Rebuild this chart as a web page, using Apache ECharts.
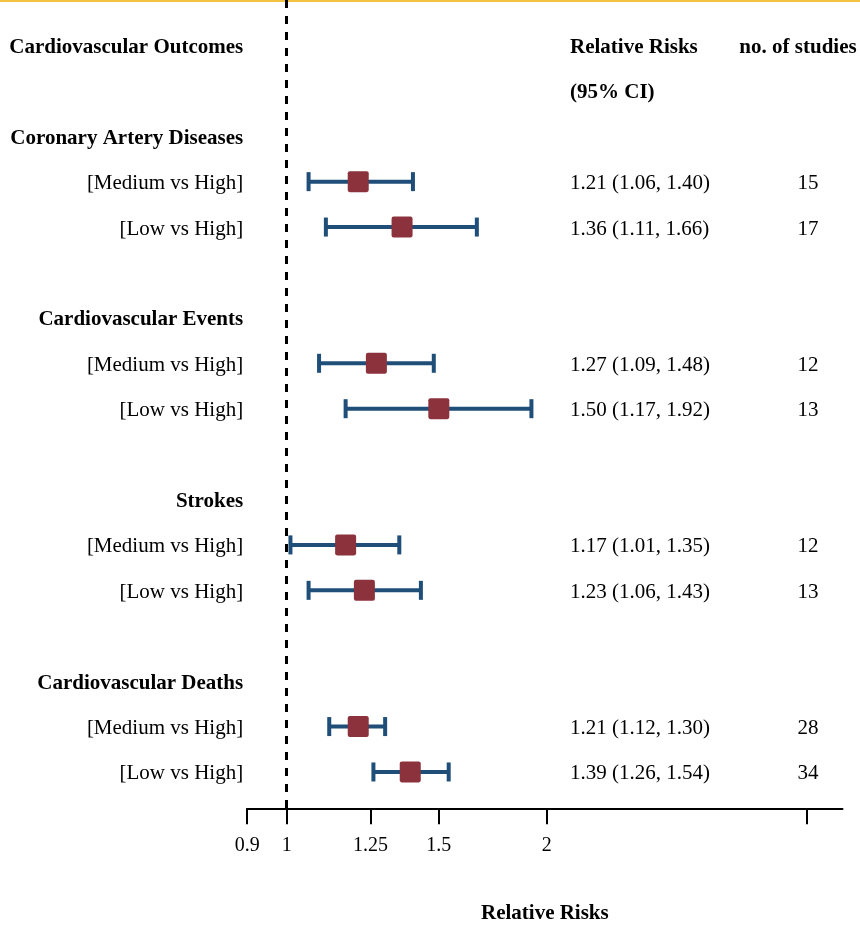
<!DOCTYPE html>
<html><head><meta charset="utf-8">
<script src="https://cdn.jsdelivr.net/npm/echarts@6/dist/echarts.min.js"></script>
<style>html,body{margin:0;padding:0;background:#fff}#c{width:860px;height:925px}</style>
</head><body><div id="c"></div>
<script>
// ---- data ----
const groups = ['Coronary Artery Diseases', 'Cardiovascular Events', 'Strokes', 'Cardiovascular Deaths'];
const comparisons = ['[Medium vs High]', '[Low vs High]'];
const rr    = [1.21, 1.36, 1.27, 1.50, 1.17, 1.23, 1.21, 1.39];
const lower = [1.06, 1.11, 1.09, 1.17, 1.01, 1.06, 1.12, 1.26];
const upper = [1.40, 1.66, 1.48, 1.92, 1.35, 1.43, 1.30, 1.54];
const studies = [15, 17, 12, 13, 12, 13, 28, 34];
const tickValues = [0.9, 1, 1.25, 1.5, 2, 4];
const tickLabels = ['0.9', '1', '1.25', '1.5', '2', ''];
const headerLeft = 'Cardiovascular Outcomes';
const headerRR = ['Relative Risks', '(95% CI)'];
const headerN = 'no. of studies';
const axisTitle = 'Relative Risks';

// ---- layout of rows ----
const FONT = 'Liberation Serif';
const leftText = {}, ciText = {}, nText = {};
leftText[0] = '{b|' + headerLeft + '}';
ciText[0] = '{b|' + headerRR[0] + '}';
ciText[1] = '{b|' + headerRR[1] + '}';
nText[0] = '{h|' + headerN + '}';
const rowOf = [];
groups.forEach((g, gi) => {
  const base = 2 + gi * 4;
  leftText[base] = '{b|' + g + '}';
  comparisons.forEach((c, ci) => {
    const idx = gi * 2 + ci;
    const r = base + 1 + ci;
    rowOf[idx] = r;
    leftText[r] = '{n|' + c + '}';
    ciText[r] = '{n|' + rr[idx].toFixed(2) + ' (' + lower[idx].toFixed(2) + ', ' + upper[idx].toFixed(2) + ')}';
    nText[r] = '{n|' + studies[idx] + '}';
  });
});
const keysOf = o => Object.keys(o).map(Number);

const rich = {
  b: {fontFamily: FONT, fontWeight: 'bold', fontSize: 21, color: '#000', padding: [4, 0, 0, 0]},
  n: {fontFamily: FONT, fontSize: 21, color: '#000', padding: [4, 0, 0, 0]},
  h: {fontFamily: FONT, fontWeight: 'bold', fontSize: 21, color: '#000', padding: [4, 20, 0, 0]}
};

const gridLeft = 247.2, gridRightX = 842.5;
function yAxisBase(extra) {
  return Object.assign({
    type: 'value', min: -1, max: 16.8, inverse: true,
    axisLine: {show: false}, axisTick: {show: false}, splitLine: {show: false}
  }, extra);
}
const lnTicks = tickValues.map(Math.log);
function tickLabel(v) {
  for (let i = 0; i < lnTicks.length; i++) if (Math.abs(lnTicks[i] - v) < 1e-9) return tickLabels[i];
  return '';
}

const option = {
  animation: false,
  backgroundColor: '#fff',
  graphic: [{type: 'rect', left: 0, top: 0, shape: {width: 860, height: 2}, style: {fill: '#F4C242'}}],
  grid: {left: gridLeft, right: 860 - gridRightX, top: 0, bottom: 116.7, outerBoundsMode: 'none', containLabel: false},
  xAxis: {
    type: 'value', min: Math.log(0.9), max: Math.log(4.4),
    splitLine: {show: false},
    axisLine: {onZero: false, lineStyle: {color: '#000', width: 2}},
    axisTick: {customValues: lnTicks, length: 16, lineStyle: {color: '#000', width: 2}},
    axisLabel: {customValues: lnTicks.slice(0, 5), formatter: tickLabel, margin: 27,
      fontFamily: FONT, fontSize: 20, color: '#000'},
    name: axisTitle, nameLocation: 'middle', nameGap: 95,
    nameTextStyle: {fontFamily: FONT, fontWeight: 'bold', fontSize: 21, color: '#000'}
  },
  yAxis: [
    yAxisBase({position: 'left', axisLabel: {customValues: keysOf(leftText), formatter: v => leftText[v] || '', margin: 4, rich: rich}}),
    yAxisBase({position: 'left', offset: gridLeft - 570, axisLabel: {inside: true, align: 'left', customValues: keysOf(ciText), formatter: v => ciText[v] || '', margin: 0, rich: rich}}),
    yAxisBase({position: 'right', offset: 808 - gridRightX, axisLabel: {align: 'center', customValues: keysOf(nText), formatter: v => nText[v] || '', margin: 0, rich: rich}})
  ],
  series: [
    {
      type: 'custom',
      xAxisIndex: 0, yAxisIndex: 0,
      encode: {x: [0, 1], y: 2},
      data: rr.map((_, i) => [Math.log(lower[i]), Math.log(upper[i]), rowOf[i]]),
      renderItem: function (params, api) {
        const p1 = api.coord([api.value(0), api.value(2)]);
        const p2 = api.coord([api.value(1), api.value(2)]);
        const h = 9.5;
        const st = {stroke: '#1F4E79', lineWidth: 4};
        return {type: 'group', children: [
          {type: 'line', shape: {x1: p1[0], y1: p1[1], x2: p2[0], y2: p2[1]}, style: st},
          {type: 'line', shape: {x1: p1[0], y1: p1[1] - h, x2: p1[0], y2: p1[1] + h}, style: st},
          {type: 'line', shape: {x1: p2[0], y1: p2[1] - h, x2: p2[0], y2: p2[1] + h}, style: st}
        ]};
      },
      z: 2
    },
    {
      type: 'scatter',
      xAxisIndex: 0, yAxisIndex: 0,
      symbol: 'path://M2,0H18Q20,0 20,2V18Q20,20 18,20H2Q0,20 0,18V2Q0,0 2,0Z',
      symbolSize: 21,
      itemStyle: {color: '#8B323C', opacity: 1},
      data: rr.map((v, i) => [Math.log(v), rowOf[i]]),
      z: 3,
      markLine: {
        silent: true, symbol: ['none', 'none'],
        label: {show: false},
        lineStyle: {type: [8, 8], width: 3, color: '#000'},
        data: [{xAxis: Math.log(1)}]
      }
    }
  ]
};
const chart = echarts.init(document.getElementById('c'), null, {renderer: 'canvas'});
chart.setOption(option);
</script></body></html>
